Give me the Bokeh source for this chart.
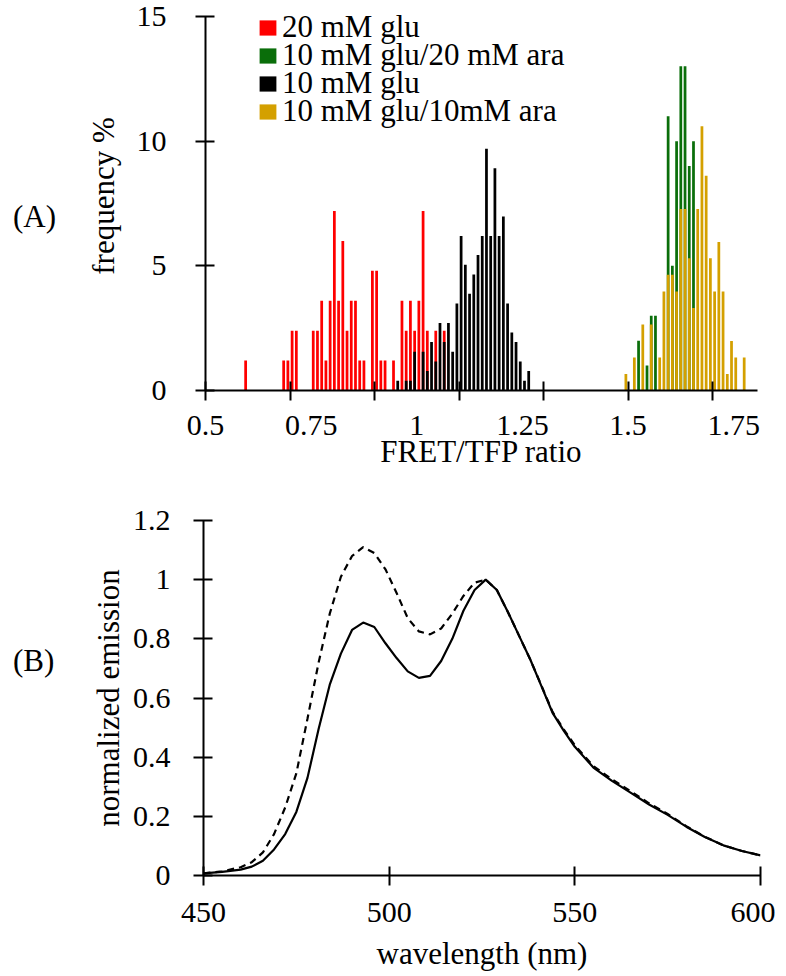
from bokeh.plotting import figure
from bokeh.models import Range1d, FixedTicker, Legend, LegendItem, Div
from bokeh.layouts import column, row
from bokeh.embed import file_html
from bokeh.resources import INLINE

FONT = "Liberation Serif"

# ---------------- Panel A: histogram of FRET/TFP ratio (bins of 0.01) ----------------
red_x = [0.595, 0.685, 0.695, 0.705, 0.715, 0.755, 0.765, 0.775, 0.785, 0.795, 0.805,
         0.815, 0.825, 0.835, 0.845, 0.855, 0.865, 0.875, 0.895, 0.905, 0.915, 0.925,
         0.945, 0.965, 0.975, 0.985, 0.995, 1.005, 1.015, 1.025, 1.045, 1.065]
red_f = [1.2, 1.2, 1.2, 2.4, 2.4, 2.4, 2.4, 3.6, 1.2, 3.6, 7.2,
         3.6, 6.0, 2.4, 3.6, 3.6, 1.2, 1.2, 4.8, 4.8, 1.2, 1.2,
         1.2, 3.6, 2.4, 3.6, 2.4, 3.6, 7.2, 2.4, 2.4, 2.4]

green_x = [1.525, 1.545, 1.555, 1.565, 1.595, 1.605, 1.615, 1.625, 1.635, 1.645, 1.655]
green_f = [2.0, 1.0, 3.0, 3.0, 11.0, 5.0, 10.0, 13.0, 13.0, 9.0, 10.0]

black_x = [0.955, 0.975, 0.985, 0.995, 1.015, 1.025, 1.035, 1.045, 1.055, 1.065, 1.075,
           1.085, 1.095, 1.105, 1.115, 1.125, 1.135, 1.145, 1.155, 1.165, 1.175, 1.185,
           1.195, 1.205, 1.215, 1.225, 1.235, 1.245, 1.255, 1.265]
black_f = [0.39, 0.39, 0.39, 1.55, 1.55, 0.78, 1.94, 1.16, 2.71, 1.94, 2.71,
           1.55, 3.49, 6.2, 5.04, 3.88, 4.65, 5.43, 6.2, 9.69, 6.2, 8.91,
           6.2, 6.98, 3.49, 2.33, 1.94, 1.16, 0.39, 0.78]

yellow_x = [1.495, 1.515, 1.535, 1.555, 1.575, 1.585, 1.595, 1.605, 1.615, 1.625, 1.635,
            1.645, 1.655, 1.665, 1.675, 1.685, 1.695, 1.705, 1.715, 1.725, 1.735, 1.745,
            1.755, 1.775]
yellow_f = [0.66, 1.32, 2.65, 2.65, 1.32, 3.97, 4.64, 4.64, 3.97, 7.28, 7.28,
            5.3, 3.31, 7.28, 10.6, 8.61, 5.3, 3.97, 5.96, 3.97, 0.66, 1.99,
            1.32, 1.32]

series_labels = ["20 mM glu", "10 mM glu/20 mM ara", "10 mM glu", "10 mM glu/10mM ara"]
series_colors = ["#FF0000", "#0A6E0A", "#000000", "#D4A000"]

xa_label_ticks = [0.5, 0.75, 1, 1.25, 1.5, 1.75]
xa_label_text = ["0.5", "0.75", "1", "1.25", "1.5", "1.75"]
xa_mark_ticks = [0.5, 0.7, 0.9, 1.1, 1.3, 1.5, 1.7]
ya_ticks = [0, 5, 10, 15]

# ---------------- Panel B: normalized emission spectra ----------------
wavelength = [450, 455, 460, 463, 466, 469, 472, 475, 478, 481, 484, 487, 490, 493, 496,
              499, 502, 505, 508, 511, 514, 517, 520, 523, 526, 529, 532, 535, 538, 541,
              544, 547, 550, 555, 560, 565, 570, 575, 580, 585, 590, 595, 600]
emission_solid = [0.007, 0.012, 0.020, 0.030, 0.050, 0.088, 0.14, 0.215, 0.33, 0.495, 0.645,
                  0.75, 0.83, 0.855, 0.84, 0.785, 0.735, 0.69, 0.668, 0.675, 0.725, 0.80,
                  0.895, 0.965, 1.0, 0.965, 0.89, 0.81, 0.73, 0.64, 0.55, 0.49, 0.435,
                  0.365, 0.32, 0.28, 0.24, 0.205, 0.165, 0.13, 0.102, 0.083, 0.068]
emission_dashed = [0.007, 0.014, 0.028, 0.045, 0.078, 0.14, 0.23, 0.345, 0.53, 0.72, 0.885,
                   1.01, 1.08, 1.11, 1.09, 1.035, 0.955, 0.87, 0.825, 0.815, 0.835, 0.885,
                   0.945, 0.99, 1.0, 0.965, 0.89, 0.81, 0.73, 0.642, 0.553, 0.494, 0.44,
                   0.37, 0.325, 0.285, 0.244, 0.208, 0.167, 0.131, 0.102, 0.083, 0.068]

xb_ticks = [450, 500, 550, 600]
yb_ticks = [0, 0.2, 0.4, 0.6, 0.8, 1, 1.2]
yb_text = ["0", "0.2", "0.4", "0.6", "0.8", "1", "1.2"]

BAR_W = 0.0065
TAG_W = 60


def style_axes(p):
    p.outline_line_color = None
    p.grid.visible = False
    p.background_fill_color = "white"
    p.border_fill_color = "white"
    for ax in p.axis:
        ax.axis_line_color = "black"
        ax.axis_line_width = 2
        ax.major_tick_line_color = "black"
        ax.major_tick_line_width = 2
        ax.major_tick_in = 9
        ax.major_tick_out = 10
        ax.minor_tick_line_color = None
        ax.major_label_text_font = FONT
        ax.major_label_text_font_size = "30px"
        ax.major_label_text_color = "black"
        ax.axis_label_text_font = FONT
        ax.axis_label_text_font_size = "31px"
        ax.axis_label_text_font_style = "normal"
        ax.axis_label_text_color = "black"


def panel_tag(text, top, height):
    html = ('<div style="margin-top:%dpx;margin-left:13px;font-family:\'Liberation Serif\';'
            'font-size:31px;line-height:36px;color:black;white-space:nowrap">%s</div>'
            % (top, text))
    return Div(text=html, width=TAG_W, height=height, margin=0)


# ---------- figure A ----------
pa = figure(output_backend="svg", toolbar_location=None,
            frame_width=552, frame_height=389,
            x_range=Range1d(0.5, 1.8065), y_range=Range1d(0, 15.6),
            min_border_left=205 - TAG_W, min_border_right=20,
            min_border_top=1, min_border_bottom=90)
style_axes(pa)

renderers = []
for xs, fs, col in [(red_x, red_f, series_colors[0]),
                    (green_x, green_f, series_colors[1]),
                    (black_x, black_f, series_colors[2]),
                    (yellow_x, yellow_f, series_colors[3])]:
    r = pa.vbar(x=xs, top=fs, width=BAR_W, bottom=0,
                fill_color=col, line_color=None)
    renderers.append(r)

xa = pa.xaxis[0]
xa.ticker = FixedTicker(ticks=xa_label_ticks, minor_ticks=xa_mark_ticks)
xa.major_tick_line_color = None
xa.minor_tick_line_color = "black"
xa.minor_tick_line_width = 2
xa.minor_tick_in = 9
xa.minor_tick_out = 10
xa.major_label_overrides = dict(zip(xa_label_ticks, xa_label_text))
xa.major_label_standoff = 15
xa.axis_label = "FRET/TFP ratio"
xa.axis_label_standoff = -4

ya = pa.yaxis[0]
ya.ticker = FixedTicker(ticks=ya_ticks)
ya.bounds = (0, 15)
ya.major_label_standoff = 29
ya.axis_label = "frequency %"
ya.axis_label_standoff = 13

# one single-entry legend per row, so that the rows sit at the reference's pitch
row_offsets = [345, 317, 289, 261]
for lab, r, vy in zip(series_labels, renderers, row_offsets):
    lg = Legend(items=[LegendItem(label=lab, renderers=[r])], location=(52, vy))
    lg.label_text_font = FONT
    lg.label_text_font_size = "31px"
    lg.label_text_color = "black"
    lg.glyph_width = 21
    lg.glyph_height = 19
    lg.label_standoff = 4
    lg.spacing = 0
    lg.padding = 0
    lg.margin = 0
    lg.border_line_color = None
    lg.background_fill_alpha = 0
    pa.add_layout(lg)

# ---------- figure B ----------
pb = figure(output_backend="svg", toolbar_location=None,
            frame_width=557, frame_height=355,
            x_range=Range1d(450, 600), y_range=Range1d(0, 1.2),
            min_border_left=203 - TAG_W, min_border_right=15,
            min_border_top=40, min_border_bottom=92)
style_axes(pb)

pb.line(wavelength, emission_dashed, line_color="black", line_width=2.2,
        line_dash="7 5")
pb.line(wavelength, emission_solid, line_color="black", line_width=2.2)

xb = pb.xaxis[0]
xb.ticker = FixedTicker(ticks=xb_ticks)
xb.major_label_standoff = 17
xb.axis_label = "wavelength (nm)"
xb.axis_label_standoff = 11

yb = pb.yaxis[0]
yb.ticker = FixedTicker(ticks=yb_ticks)
yb.major_label_overrides = dict(zip(yb_ticks, yb_text))
yb.major_label_standoff = 23
yb.axis_label = "normalized emission"
yb.axis_label_standoff = 4

tag_a = panel_tag("(A)", 199, 480)
tag_b = panel_tag("(B)", 163, 487)

layout = column(row(tag_a, pa, spacing=0), row(tag_b, pb, spacing=0), spacing=0)
open("out.html", "w").write(file_html(layout, INLINE))
